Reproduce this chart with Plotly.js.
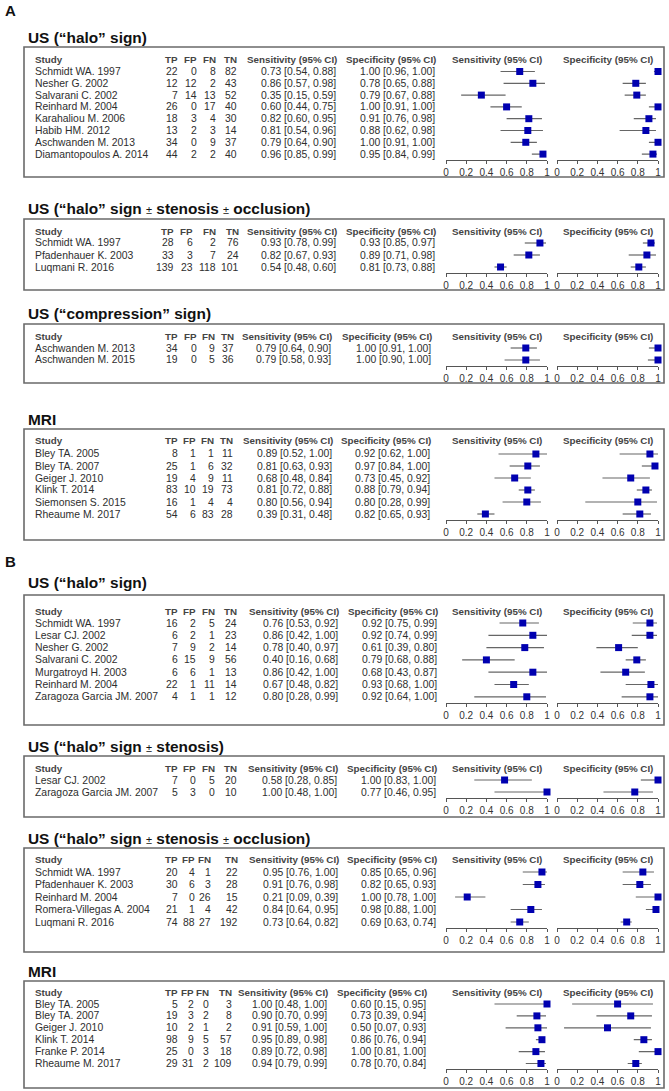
<!DOCTYPE html>
<html><head><meta charset="utf-8">
<script src="https://cdn.plot.ly/plotly-3.0.1.min.js"></script>
<style>html,body{margin:0;padding:0;background:#fff}</style>
</head><body><div id="chart" style="width:669px;height:1091px"></div>
<script>
// ---------------- DATA ----------------
const panelTitles = [
  'US (“halo” sign)',
  'US (“halo” sign ± stenosis ± occlusion)',
  'US (“compression” sign)',
  'MRI',
  'US (“halo” sign)',
  'US (“halo” sign ± stenosis)',
  'US (“halo” sign ± stenosis ± occlusion)',
  'MRI'
];
const sectionLetters = ['A', 'B'];
const colHeaders = ['Study', 'TP', 'FP', 'FN', 'TN', 'Sensitivity (95% CI)', 'Specificity (95% CI)'];
const forestHeaders = ['Sensitivity (95% CI)', 'Specificity (95% CI)'];
const tickVals = [0, 0.2, 0.4, 0.6, 0.8, 1];
const tickText = ['0', '0.2', '0.4', '0.6', '0.8', '1'];

const rowPanel = [0,0,0,0,0,0,0,0, 1,1,1, 2,2, 3,3,3,3,3,3, 4,4,4,4,4,4,4, 5,5, 6,6,6,6,6, 7,7,7,7,7,7];
const study = [
  'Schmidt WA. 1997','Nesher G. 2002','Salvarani C. 2002','Reinhard M. 2004','Karahaliou M. 2006','Habib HM. 2012','Aschwanden M. 2013','Diamantopoulos A. 2014',
  'Schmidt WA. 1997','Pfadenhauer K. 2003','Luqmani R. 2016',
  'Aschwanden M. 2013','Aschwanden M. 2015',
  'Bley TA. 2005','Bley TA. 2007','Geiger J. 2010','Klink T. 2014','Siemonsen S. 2015','Rheaume M. 2017',
  'Schmidt WA. 1997','Lesar CJ. 2002','Nesher G. 2002','Salvarani C. 2002','Murgatroyd H. 2003','Reinhard M. 2004','Zaragoza Garcia JM. 2007',
  'Lesar CJ. 2002','Zaragoza Garcia JM. 2007',
  'Schmidt WA. 1997','Pfadenhauer K. 2003','Reinhard M. 2004','Romera-Villegas A. 2004','Luqmani R. 2016',
  'Bley TA. 2005','Bley TA. 2007','Geiger J. 2010','Klink T. 2014','Franke P. 2014','Rheaume M. 2017'
];
const tp = [22,12,7,26,18,13,34,44, 28,33,139, 34,19, 8,25,19,83,16,54, 16,6,7,6,6,22,4, 7,5, 20,30,7,21,74, 5,19,10,98,25,29];
const fp = [0,12,14,0,3,2,0,2, 6,3,23, 0,0, 1,1,4,10,1,6, 2,2,9,15,6,1,1, 0,3, 4,6,0,1,88, 2,3,2,9,0,31];
const fn = [8,2,13,17,4,3,9,2, 2,7,118, 9,5, 1,6,9,19,4,83, 5,1,2,9,1,11,1, 5,0, 1,3,26,4,27, 0,2,1,5,3,2];
const tn = [82,43,52,40,30,14,37,40, 76,24,101, 37,36, 11,32,11,73,4,28, 24,23,14,56,13,14,12, 20,10, 22,28,15,42,192, 3,8,2,57,18,109];
const sens   = [0.73,0.86,0.35,0.60,0.82,0.81,0.79,0.96, 0.93,0.82,0.54, 0.79,0.79, 0.89,0.81,0.68,0.81,0.80,0.39, 0.76,0.86,0.78,0.40,0.86,0.67,0.80, 0.58,1.00, 0.95,0.91,0.21,0.84,0.73, 1.00,0.90,0.91,0.95,0.89,0.94];
const sensLo = [0.54,0.57,0.15,0.44,0.60,0.54,0.64,0.85, 0.78,0.67,0.48, 0.64,0.58, 0.52,0.63,0.48,0.72,0.56,0.31, 0.53,0.42,0.40,0.16,0.42,0.48,0.28, 0.28,0.48, 0.76,0.76,0.09,0.64,0.64, 0.48,0.70,0.59,0.89,0.72,0.79];
const sensHi = [0.88,0.98,0.59,0.75,0.95,0.96,0.90,0.99, 0.99,0.93,0.60, 0.90,0.93, 1.00,0.93,0.84,0.88,0.94,0.48, 0.92,1.00,0.97,0.68,1.00,0.82,0.99, 0.85,1.00, 1.00,0.98,0.39,0.95,0.82, 1.00,0.99,1.00,0.98,0.98,0.99];
const spec   = [1.00,0.78,0.79,1.00,0.91,0.88,1.00,0.95, 0.93,0.89,0.81, 1.00,1.00, 0.92,0.97,0.73,0.88,0.80,0.82, 0.92,0.92,0.61,0.79,0.68,0.93,0.92, 1.00,0.77, 0.85,0.82,1.00,0.98,0.69, 0.60,0.73,0.50,0.86,1.00,0.78];
const specLo = [0.96,0.65,0.67,0.91,0.76,0.62,0.91,0.84, 0.85,0.71,0.73, 0.91,0.90, 0.62,0.84,0.45,0.79,0.28,0.65, 0.75,0.74,0.39,0.68,0.43,0.68,0.64, 0.83,0.46, 0.65,0.65,0.78,0.88,0.63, 0.15,0.39,0.07,0.76,0.81,0.70];
const specHi = [1.00,0.88,0.88,1.00,0.98,0.98,1.00,0.99, 0.97,0.98,0.88, 1.00,1.00, 1.00,1.00,0.92,0.94,0.99,0.93, 0.99,0.99,0.80,0.88,0.87,1.00,1.00, 1.00,0.95, 0.96,0.93,1.00,1.00,0.74, 0.95,0.94,0.93,0.94,1.00,0.84];

// ---------------- LAYOUT GEOMETRY (pixels) ----------------
const W = 669, H = 1091;
const px = x => x / W, py = y => 1 - y / H;
const FONT = '"Liberation Sans",Arial,sans-serif';
const geom = [
  {title:38,  top:47,  bottom:177, header:59,  row0:71.5, step:11.8, cols:[180,199,218,239], sensR:338, specR:437},
  {title:208, top:219, bottom:290, header:231, row0:243,  step:12,   cols:[176,195,218,241], sensR:338, specR:437},
  {title:313, top:324, bottom:383, header:336, row0:348,  step:12,   cols:[180,199,217,236], sensR:333, specR:433},
  {title:419, top:429, bottom:540, header:441, row0:454,  step:12,   cols:[180,198,216,235], sensR:334, specR:432},
  {title:582, top:595, bottom:725, header:611, row0:623,  step:12.3, cols:[180,198,217,239], sensR:340, specR:439},
  {title:746, top:756, bottom:817, header:768, row0:780,  step:12,   cols:[180,198,217,239], sensR:339, specR:438},
  {title:838, top:848, bottom:952, header:860, row0:872,  step:12.5, cols:[180,197,213,240], sensR:340, specR:438},
  {title:971, top:981, bottom:1088,header:993, row0:1004, step:11.9, cols:[180,196,211,234], sensR:329, specR:428}
];
const sectionY = [11, 561];
const forestX = [[446, 547], [557, 658]];
const BOX_L = 24, BOX_R = 664, STUDY_X = 33, TITLE_X = 26;

const annotations = [], shapes = [], traces = [];
const layout = {
  width: W, height: H, margin: {l:0, r:0, t:0, b:0},
  paper_bgcolor: '#fff', plot_bgcolor: 'rgba(0,0,0,0)',
  showlegend: false, annotations, shapes
};
function txt(s, x, y, anchor, opts) {
  annotations.push(Object.assign({
    text: s, x: px(x), y: py(y), xref: 'paper', yref: 'paper',
    xanchor: anchor, yanchor: 'middle', showarrow: false,
    font: {family: FONT, size: 10.4, color: '#2e2e2e'}
  }, opts || {}));
}
function titleHtml(t) {
  return t.split('±').map(s => '<b>' + s + '</b>').join('<span style="font-size:11px">±</span>');
}
const f2 = v => v.toFixed(2);

sectionLetters.forEach((L, k) => {
  txt('<b>' + L + '</b>', 3, sectionY[k], 'left', {font: {family: FONT, size: 15, color: '#111'}});
});

panelTitles.forEach((t, p) => {
  const g = geom[p];
  const idx = rowPanel.map((v, i) => v === p ? i : -1).filter(i => i >= 0);
  const n = idx.length;
  txt(titleHtml(t), TITLE_X, g.title, 'left', {font: {family: FONT, size: 15.4, color: '#111'}});
  shapes.push({type: 'rect', xref: 'paper', yref: 'paper', x0: px(BOX_L), x1: px(BOX_R), y0: py(g.bottom), y1: py(g.top),
    line: {color: '#6a6a6a', width: 1.6}, fillcolor: 'rgba(0,0,0,0)'});
  const hf = {family: FONT, size: 9.8, color: '#444'};
  txt('<b>' + colHeaders[0] + '</b>', STUDY_X, g.header, 'left', {font: hf});
  for (let c = 0; c < 4; c++) txt('<b>' + colHeaders[c + 1] + '</b>', g.cols[c], g.header, 'right', {font: hf});
  txt('<b>' + colHeaders[5] + '</b>', g.sensR + 1, g.header, 'right', {font: hf});
  txt('<b>' + colHeaders[6] + '</b>', g.specR + 1, g.header, 'right', {font: hf});
  forestHeaders.forEach((h, s) => txt('<b>' + h + '</b>', (forestX[s][0] + forestX[s][1]) / 2, g.header, 'center', {font: hf}));

  idx.forEach((i, j) => {
    const y = g.row0 + j * g.step;
    txt(study[i], STUDY_X, y, 'left');
    [tp[i], fp[i], fn[i], tn[i]].forEach((v, c) => txt(String(v), g.cols[c], y, 'right'));
    txt(f2(sens[i]) + ' [' + f2(sensLo[i]) + ', ' + f2(sensHi[i]) + ']', g.sensR, y, 'right');
    txt(f2(spec[i]) + ' [' + f2(specLo[i]) + ', ' + f2(specHi[i]) + ']', g.specR, y, 'right');
  });

  const lastRow = g.row0 + (n - 1) * g.step;
  [[sens, sensLo, sensHi], [spec, specLo, specHi]].forEach((arr, s) => {
    const a = p * 2 + s + 1;
    const xa = a === 1 ? 'x' : 'x' + a, ya = a === 1 ? 'y' : 'y' + a;
    traces.push({
      type: 'scatter', mode: 'markers', xaxis: xa, yaxis: ya,
      x: idx.map(i => arr[0][i]), y: idx.map((i, j) => j),
      marker: {symbol: 'square', size: 7, color: '#0000b0'},
      error_x: {type: 'data', symmetric: false,
        array: idx.map(i => arr[2][i] - arr[0][i]),
        arrayminus: idx.map(i => arr[0][i] - arr[1][i]),
        color: '#666', thickness: 1.2, width: 0},
      cliponaxis: false, hoverinfo: 'skip'
    });
    layout[a === 1 ? 'xaxis' : 'xaxis' + a] = {
      domain: [px(forestX[s][0]), px(forestX[s][1])], range: [0, 1], anchor: ya,
      tickvals: tickVals, ticktext: tickText, ticks: 'outside', ticklen: 3, tickwidth: 1, tickcolor: '#555',
      showline: true, linecolor: '#555', linewidth: 1, showgrid: false, zeroline: false,
      tickfont: {family: FONT, size: 10, color: '#333'}, fixedrange: true
    };
    layout[a === 1 ? 'yaxis' : 'yaxis' + a] = {
      domain: [py(lastRow + g.step / 2), py(g.row0 - g.step / 2)], range: [n - 0.5, -0.5],
      anchor: xa, visible: false, fixedrange: true
    };
  });
});

Plotly.newPlot('chart', traces, layout, {staticPlot: true, displayModeBar: false});
</script>
</body></html>
